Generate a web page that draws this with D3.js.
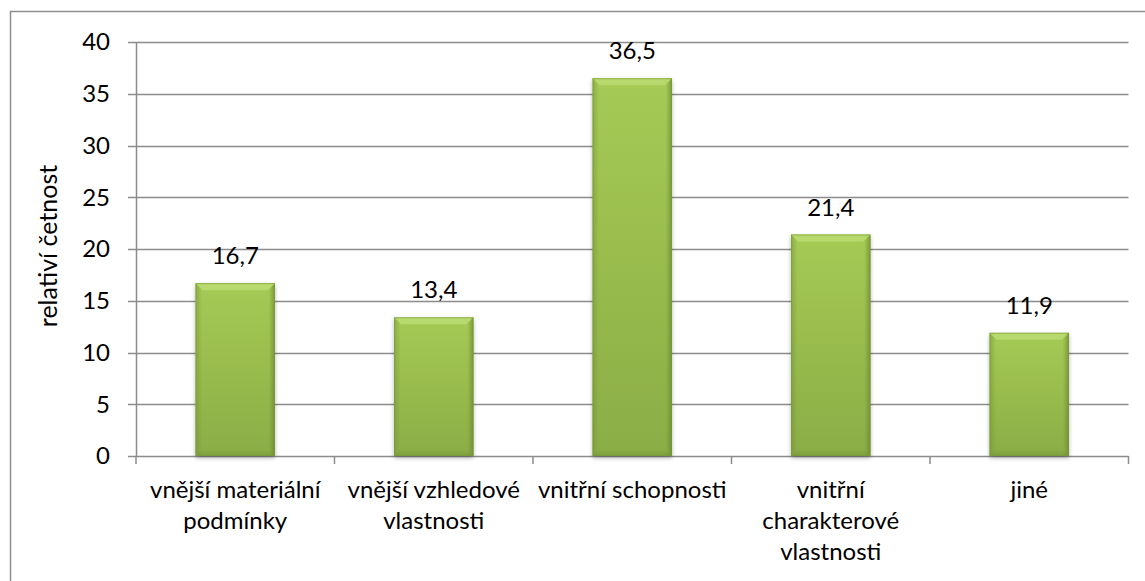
<!DOCTYPE html>
<html><head><meta charset="utf-8">
<script src="https://cdn.jsdelivr.net/npm/d3@7/dist/d3.min.js"></script>
<style>
html,body{margin:0;padding:0;background:#fff;}
svg{display:block;font-family:"Lato","Open Sans",sans-serif;}
</style></head>
<body>
<svg id="chart" width="1145" height="581"></svg>
<script>
const categories = [
  ["vnější materiální","podmínky"],
  ["vnější vzhledové","vlastnosti"],
  ["vnitřní schopnosti"],
  ["vnitřní","charakterové","vlastnosti"],
  ["jiné"]
];
const values = [16.7, 13.4, 36.5, 21.4, 11.9];
const yTicks = [0,5,10,15,20,25,30,35,40];
const yTitle = "relativí četnost";

(function(){
const svg = d3.select("#chart");
const pLeft = 136, pRight = 1128.5, pTop = 42, pBottom = 456;
const fontSize = 24;

svg.append("rect").attr("x",10.5).attr("y",11.5).attr("width",1200).attr("height",700)
  .attr("fill","#fff").attr("stroke","#8e8e8e").attr("stroke-width",1.5);

const idx = categories.map((d,i)=>i);
const x = d3.scaleBand().domain(idx).range([pLeft,pRight]).paddingInner(0.6).paddingOuter(0.3);
const y = d3.scaleLinear().domain([0,40]).range([pBottom,pTop]);

const defs = svg.append("defs");
const gMain = defs.append("linearGradient").attr("id","gMain").attr("x1",0).attr("y1",0).attr("x2",0).attr("y2",1);
gMain.append("stop").attr("offset","0%").attr("stop-color","#a6ca55");
gMain.append("stop").attr("offset","100%").attr("stop-color","#8bad46");
const gSide = defs.append("linearGradient").attr("id","gSide").attr("x1",0).attr("y1",0).attr("x2",1).attr("y2",0);
gSide.append("stop").attr("offset","0%").attr("stop-color","#6f8f32").attr("stop-opacity",0.5);
gSide.append("stop").attr("offset","8%").attr("stop-color","#6f8f32").attr("stop-opacity",0.0);
gSide.append("stop").attr("offset","92%").attr("stop-color","#6f8f32").attr("stop-opacity",0.0);
gSide.append("stop").attr("offset","100%").attr("stop-color","#5e7c28").attr("stop-opacity",0.65);
const gBot = defs.append("linearGradient").attr("id","gBot").attr("x1",0).attr("y1",0).attr("x2",0).attr("y2",1);
gBot.append("stop").attr("offset","0%").attr("stop-color","#6f8f30").attr("stop-opacity",0);
gBot.append("stop").attr("offset","100%").attr("stop-color","#6f8f30").attr("stop-opacity",0.5);
const shadow = defs.append("filter").attr("id","shadow").attr("x","-20%").attr("y","-10%").attr("width","140%").attr("height","130%");
shadow.append("feDropShadow").attr("dx",0).attr("dy",2).attr("stdDeviation",2).attr("flood-color","#000").attr("flood-opacity",0.3);

svg.append("g").selectAll("line").data(yTicks).join("line")
  .attr("x1",pLeft-8).attr("x2",pRight).attr("y1",d=>Math.round(y(d))+0.5).attr("y2",d=>Math.round(y(d))+0.5)
  .attr("stroke","#8c8c8c").attr("stroke-width",1.5);

svg.append("line").attr("x1",pLeft+0.5).attr("x2",pLeft+0.5).attr("y1",pTop).attr("y2",pBottom+0.5)
  .attr("stroke","#8c8c8c").attr("stroke-width",1.5);

const bounds = d3.range(categories.length+1).map(i=>pLeft + i*x.step());
svg.append("g").selectAll("line").data(bounds).join("line")
  .attr("x1",d=>d).attr("x2",d=>d).attr("y1",pBottom).attr("y2",pBottom+8)
  .attr("stroke","#8c8c8c").attr("stroke-width",1.5);

svg.append("g").selectAll("text").data(yTicks).join("text")
  .attr("x",110).attr("y",d=>y(d)).attr("dy","0.35em").attr("text-anchor","end")
  .attr("font-size",fontSize).attr("fill","#000").text(d=>d);

svg.append("text").attr("transform",`translate(57,${(pTop+pBottom)/2 - 3}) rotate(-90)`)
  .attr("text-anchor","middle").attr("font-size",fontSize+1).attr("fill","#000").text(yTitle);

const bw = x.bandwidth(), bev = 7;
const bars = svg.append("g").selectAll("g").data(values).join("g");
bars.each(function(v,i){
  const g = d3.select(this);
  const x0 = x(i), y0 = y(v), h = y(0)-y(v);
  g.append("rect").attr("x",x0).attr("y",y0).attr("width",bw).attr("height",h)
    .attr("fill","url(#gMain)").attr("filter","url(#shadow)");
  g.append("rect").attr("x",x0).attr("y",y0).attr("width",bw).attr("height",h).attr("fill","url(#gSide)");
  g.append("path").attr("d",`M${x0},${y0}L${x0+bw},${y0}L${x0+bw-bev},${y0+bev}L${x0+bev},${y0+bev}Z`)
    .attr("fill","#b9da70").attr("opacity",0.9);
  g.append("path").attr("d",`M${x0},${y0+h}L${x0+bw},${y0+h}L${x0+bw-bev},${y0+h-bev}L${x0+bev},${y0+h-bev}Z`)
    .attr("fill","url(#gBot)");
  g.append("rect").attr("x",x0+0.5).attr("y",y0+0.5).attr("width",bw-1).attr("height",h-1)
    .attr("fill","none").attr("stroke","#7a9a3a").attr("stroke-width",1).attr("opacity",0.6);
});

svg.append("g").selectAll("text").data(values).join("text")
  .attr("x",(d,i)=>x(i)+bw/2).attr("y",d=>y(d)-19).attr("text-anchor","middle")
  .attr("font-size",fontSize).attr("fill","#000").text(d=>d.toFixed(1).replace(".",","));

const cl = svg.append("g").selectAll("text").data(categories).join("text")
  .attr("x",(d,i)=>x(i)+bw/2).attr("y",498).attr("text-anchor","middle")
  .attr("font-size",fontSize).attr("fill","#000");
cl.selectAll("tspan").data(d=>d).join("tspan")
  .attr("x",function(){return this.parentNode.getAttribute("x");})
  .attr("dy",(d,j)=>j===0?0:31).text(d=>d);
})();
</script>
</body></html>
